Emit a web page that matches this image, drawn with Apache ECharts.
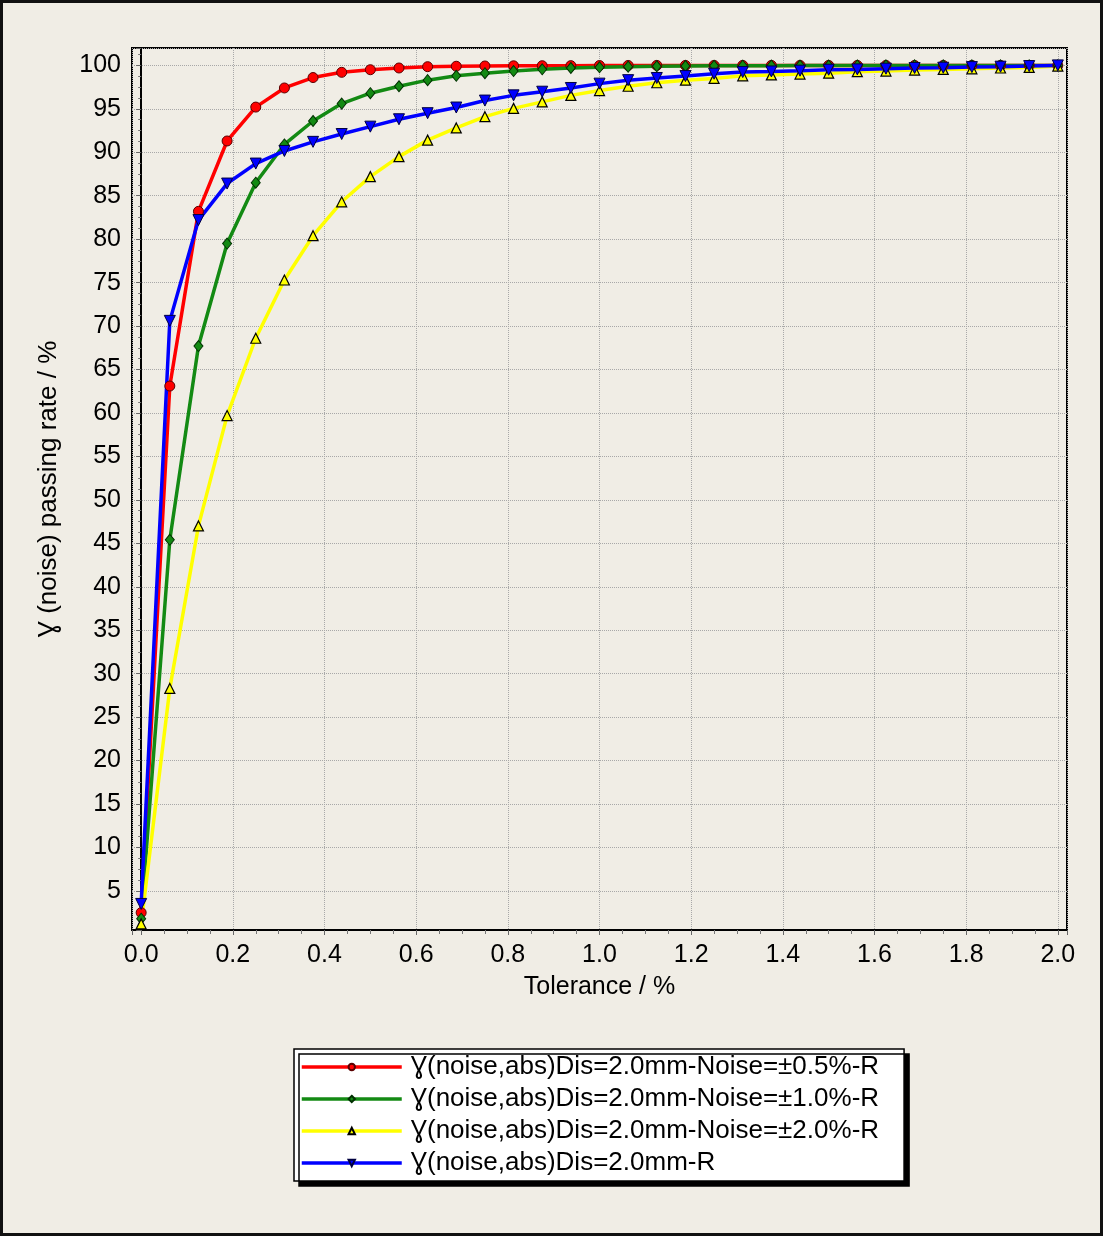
<!DOCTYPE html>
<html><head><meta charset="utf-8">
<script src="https://cdn.jsdelivr.net/npm/echarts@6/dist/echarts.min.js"></script>
<style>
html,body{margin:0;padding:0;background:#f0ede5;}
#c{width:1103px;height:1236px;}
#frame{position:absolute;left:0;top:0;width:1103px;height:1236px;box-sizing:border-box;border:3px solid #111;pointer-events:none;}
</style></head><body>
<div id="c"></div><div id="frame"></div>
<script>
const tolerance = [0, 0.0625, 0.125, 0.1875, 0.25, 0.3125, 0.375, 0.4375, 0.5, 0.5625, 0.625, 0.6875, 0.75, 0.8125, 0.875, 0.9375, 1.0, 1.0625, 1.125, 1.1875, 1.25, 1.3125, 1.375, 1.4375, 1.5, 1.5625, 1.625, 1.6875, 1.75, 1.8125, 1.875, 1.9375, 2.0];
const seriesNames = [
  'Ɣ(noise,abs)Dis=2.0mm-Noise=±0.5%-R',
  'Ɣ(noise,abs)Dis=2.0mm-Noise=±1.0%-R',
  'Ɣ(noise,abs)Dis=2.0mm-Noise=±2.0%-R',
  'Ɣ(noise,abs)Dis=2.0mm-R'
];
const noise05 = [2.5, 63.1, 83.2, 91.3, 95.2, 97.4, 98.6, 99.2, 99.5, 99.7, 99.85, 99.9, 99.93, 99.95, 99.96, 99.97, 99.98, 99.99, 100, 100, 100, 100, 100, 100, 100, 100, 100, 100, 100, 100, 100, 100, 100];
const noise10 = [1.8, 45.4, 67.7, 79.5, 86.5, 90.9, 93.6, 95.6, 96.8, 97.6, 98.3, 98.8, 99.1, 99.35, 99.55, 99.7, 99.78, 99.85, 99.9, 99.93, 99.95, 99.96, 99.97, 99.98, 99.98, 99.99, 100, 100, 100, 100, 100, 100, 100];
const noise20 = [1.2, 28.3, 47.0, 59.7, 68.6, 75.3, 80.4, 84.3, 87.2, 89.5, 91.4, 92.8, 94.1, 95.05, 95.8, 96.55, 97.1, 97.6, 98.0, 98.3, 98.5, 98.8, 98.9, 99.0, 99.1, 99.27, 99.35, 99.46, 99.54, 99.6, 99.7, 99.77, 99.92];
const noNoise = [3.5, 70.6, 82.2, 86.4, 88.7, 90.15, 91.2, 92.1, 92.95, 93.8, 94.5, 95.15, 95.95, 96.55, 96.97, 97.4, 97.9, 98.3, 98.55, 98.77, 99.04, 99.23, 99.3, 99.39, 99.5, 99.54, 99.62, 99.7, 99.73, 99.8, 99.85, 99.92, 100];

const FONT = 'Liberation Sans, Arial, sans-serif';
const pairs = arr => tolerance.map((x, i) => [x, arr[i]]);

const chart = echarts.init(document.getElementById('c'), null, {renderer: 'canvas'});
chart.setOption({
  animation: false,
  backgroundColor: '#f0ede5',
  grid: {left: 132, right: 36, top: 48, bottom: 306, show: true, backgroundColor: '#f0ede5', borderColor: '#000', borderWidth: 2, containLabel: false, outerBoundsMode: 'none'},
  xAxis: {
    type: 'value', min: -0.02, max: 2.02, splitNumber: 10,
    name: 'Tolerance / %', nameLocation: 'middle', nameGap: 45,
    nameTextStyle: {fontSize: 25, color: '#000', fontFamily: FONT},
    axisLine: {show: true, lineStyle: {color: '#000', width: 2}},
    axisTick: {show: true, length: 5, lineStyle: {color: '#666'}},
    minorTick: {show: true, splitNumber: 4, length: 4, lineStyle: {color: '#777'}},
    axisLabel: {fontSize: 25, color: '#000', fontFamily: FONT, margin: 13, showMinLabel: false, showMaxLabel: false,
      formatter: v => (Math.abs(v * 5 - Math.round(v * 5)) < 1e-6 ? v.toFixed(1) : '')},
    splitLine: {show: true, lineStyle: {type: 'dotted', color: '#a8a8a8', width: 1}}
  },
  yAxis: {
    type: 'value', min: 0.5, max: 102, splitNumber: 20,
    name: 'Ɣ (noise) passing rate / %', nameLocation: 'middle', nameGap: 70,
    nameTextStyle: {fontSize: 26, color: '#000', fontFamily: FONT},
    axisLine: {show: true, lineStyle: {color: '#000', width: 2}},
    axisTick: {show: true, length: 5, lineStyle: {color: '#666'}},
    minorTick: {show: true, splitNumber: 4, length: 3, lineStyle: {color: '#777'}},
    axisLabel: {fontSize: 25, color: '#000', fontFamily: FONT, margin: 11, showMinLabel: false, showMaxLabel: false,
      formatter: v => (Math.abs(v / 5 - Math.round(v / 5)) < 1e-6 ? String(Math.round(v)) : '')},
    splitLine: {show: true, lineStyle: {type: 'dotted', color: '#a8a8a8', width: 1}}
  },
  legend: {
    left: 294, top: 1049, orient: 'vertical', selectedMode: false,
    itemWidth: 100, itemHeight: 8, itemGap: 6,
    padding: [5, 25, 5, 6],
    backgroundColor: '#fff', borderColor: '#000', borderWidth: 1.5,
    shadowColor: '#000', shadowBlur: 0, shadowOffsetX: 5, shadowOffsetY: 5,
    lineStyle: {width: 3.5},
    textStyle: {fontSize: 26, lineHeight: 26, color: '#000', fontFamily: FONT, padding: [0, 0, 0, 4]},
    data: seriesNames
  },
  series: [
    {name: seriesNames[0], type: 'line', data: pairs(noise05), showAllSymbol: true,
      symbol: 'circle', symbolSize: 10,
      lineStyle: {color: '#ff0000', width: 3.5},
      itemStyle: {color: '#ff0000', borderColor: '#5a0000', borderWidth: 1}},
    {name: seriesNames[1], type: 'line', data: pairs(noise10), showAllSymbol: true,
      symbol: 'diamond', symbolSize: [9, 11],
      lineStyle: {color: '#138a13', width: 3.5},
      itemStyle: {color: '#138a13', borderColor: '#003000', borderWidth: 1}},
    {name: seriesNames[2], type: 'line', data: pairs(noise20), showAllSymbol: true,
      symbol: 'triangle', symbolSize: 10,
      lineStyle: {color: '#ffff00', width: 3.5},
      itemStyle: {color: '#ffff00', borderColor: '#000', borderWidth: 1.2}},
    {name: seriesNames[3], type: 'line', data: pairs(noNoise), showAllSymbol: true,
      symbol: 'triangle', symbolRotate: 180, symbolSize: 11,
      lineStyle: {color: '#0000ff', width: 3.5},
      itemStyle: {color: '#0000ff', borderColor: '#000040', borderWidth: 1}}
  ]
});
</script>
</body></html>
